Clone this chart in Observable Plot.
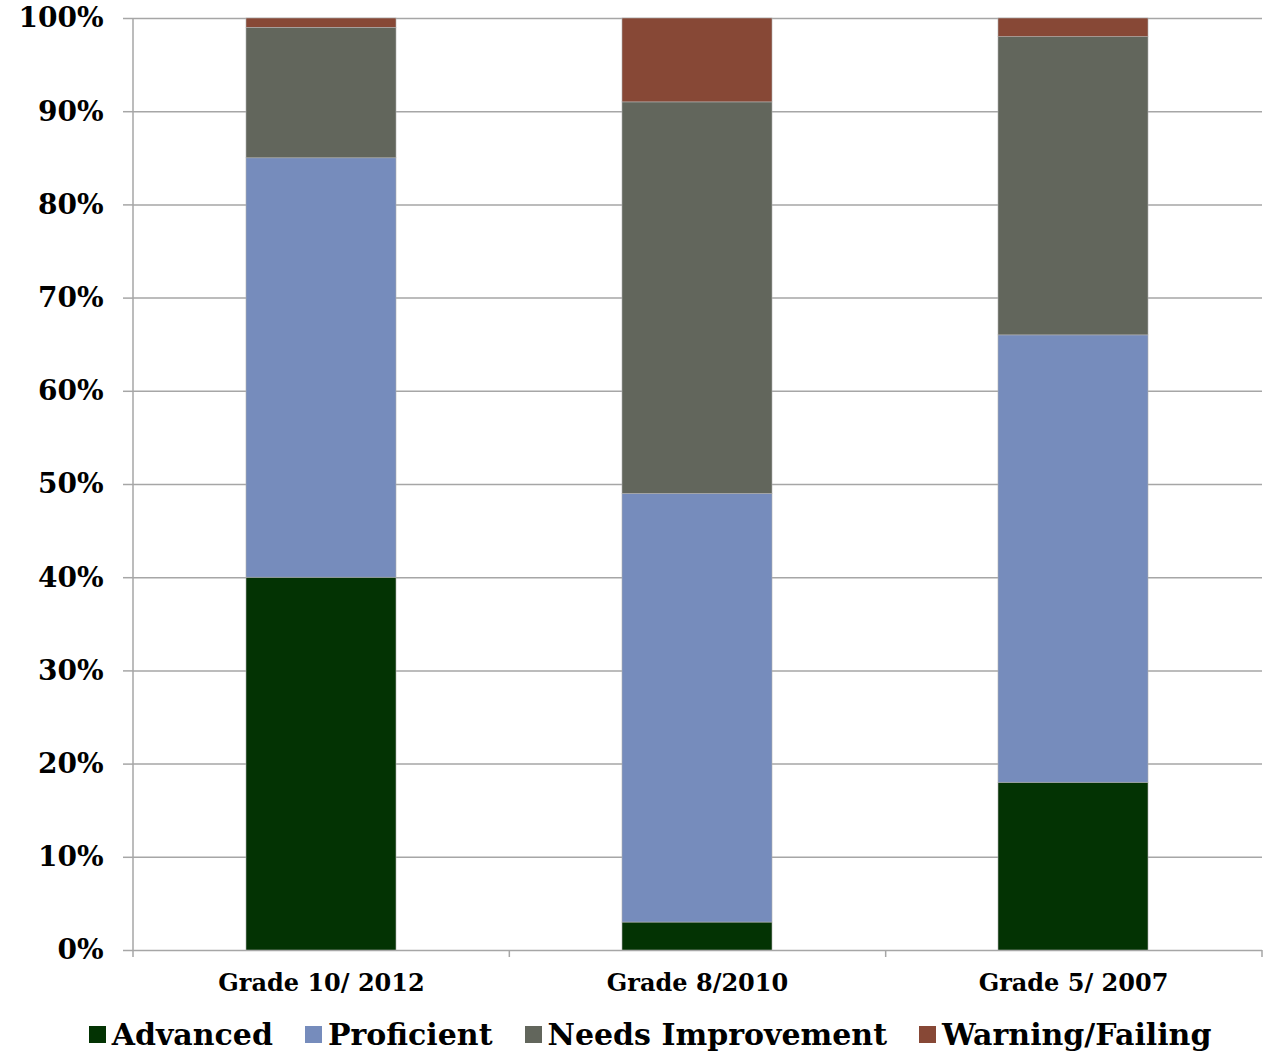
<!DOCTYPE html>
<html>
<head>
<meta charset="utf-8">
<script src="https://cdn.jsdelivr.net/npm/d3@7"></script>
<script src="https://cdn.jsdelivr.net/npm/@observablehq/plot@0.6"></script>
<style>
  html, body { margin: 0; padding: 0; background: #fff; }
  #chart svg { display: block; font-family: "DejaVu Serif", serif; font-weight: bold; }
  #legend { height: 45px; padding-top: 12px; display: flex; justify-content: center; align-items: center; gap: 32px;
    font-family: "DejaVu Serif", serif; font-weight: bold; font-size: 30px; color: #000; margin-left: 30px; }
  #legend .item { display: flex; align-items: center; gap: 6px; }
  #legend .sw { width: 17px; height: 17px; display: inline-block; }
</style>
</head>
<body>
<div id="chart"></div>
<div id="legend"></div>
<script>
const categories = ["Grade 10/ 2012", "Grade 8/2010", "Grade 5/ 2007"];
const levels = ["Advanced", "Proficient", "Needs Improvement", "Warning/Failing"];
const advanced = [40, 3, 18];
const proficient = [45, 46, 48];
const needsImprovement = [14, 42, 32];
const warningFailing = [1, 9, 2];
const colors = ["#033303", "#768cbc", "#62665c", "#874836"];
const yTicks = [0, 10, 20, 30, 40, 50, 60, 70, 80, 90, 100];

const series = [advanced, proficient, needsImprovement, warningFailing];
const data = [];
categories.forEach((c, i) => {
  levels.forEach((l, j) => data.push({category: c, level: l, value: series[j][i]}));
});

function boundaryTicks(index, scales, values, dims) {
  const {width, height, marginLeft, marginRight, marginTop, marginBottom} = dims;
  const n = categories.length;
  const x0 = marginLeft, x1 = width - marginRight, yb = height - marginBottom;
  const g = d3.create("svg:g").attr("stroke", "#a6a6a6").attr("stroke-width", 1.5);
  for (let i = 0; i <= n; i++) {
    const x = x0 + i * (x1 - x0) / n;
    g.append("line").attr("x1", x).attr("x2", x).attr("y1", yb).attr("y2", yb + 7);
  }
  g.append("line").attr("x1", x0).attr("x2", x0).attr("y1", marginTop).attr("y2", yb);
  return g.node();
}

const chart = Plot.plot({
  width: 1270,
  height: 1000,
  marginLeft: 133,
  marginRight: 8,
  marginTop: 18,
  marginBottom: 50,
  style: {background: "#fff", color: "#000"},
  x: {domain: categories, paddingInner: 0.6, paddingOuter: 0.3, label: null},
  y: {domain: [0, 100], label: null},
  color: {domain: levels, range: colors},
  marks: [
    Plot.ruleY(yTicks, {stroke: "#a6a6a6", strokeWidth: 1.5}),
    Plot.barY(data, {x: "category", y: "value", fill: "level", stroke: "#b0b0b0", strokeWidth: 0.6}),
    boundaryTicks,
    Plot.axisY({ticks: yTicks, tickSize: 10, tickPadding: 20, tickFormat: d => d + "%",
      fontSize: 28, fontWeight: "bold", stroke: "#a6a6a6", strokeWidth: 1.5, fill: "#000"}),
    Plot.axisX({tickSize: 0, tickPadding: 23, fontSize: 24, fontWeight: "bold", fill: "#000"})
  ]
});
document.getElementById("chart").appendChild(chart);

const legend = d3.select("#legend");
levels.forEach((l, i) => {
  const item = legend.append("span").attr("class", "item");
  item.append("span").attr("class", "sw").style("background", colors[i]);
  item.append("span").text(l);
});
</script>
</body>
</html>
